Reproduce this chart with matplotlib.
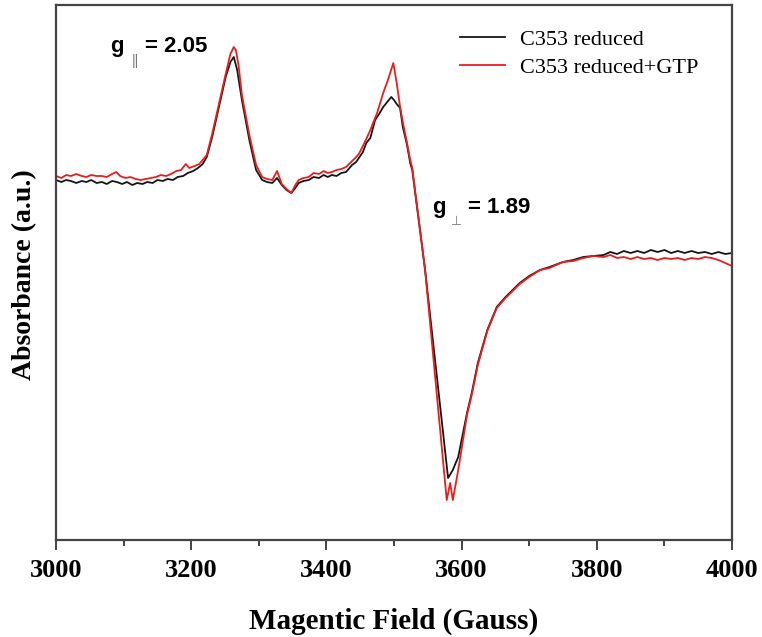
import matplotlib
matplotlib.use("Agg")
import matplotlib.pyplot as plt
from matplotlib.ticker import MultipleLocator

# EPR spectra, field in Gauss, absorbance in arbitrary units
field_reduced = [3000, 3008, 3015, 3022, 3030, 3038, 3045, 3052, 3060, 3068,
                 3075, 3083, 3090, 3098, 3105, 3113, 3120, 3128, 3135, 3143,
                 3150, 3158, 3165, 3173, 3180, 3188, 3195, 3203, 3210, 3217,
                 3223, 3231, 3241, 3251, 3258, 3263, 3268, 3275, 3286, 3296,
                 3305, 3312, 3320, 3327, 3334, 3341, 3348, 3354, 3359, 3366,
                 3374, 3381, 3389, 3396, 3402, 3408, 3415, 3422, 3429, 3438,
                 3444, 3448, 3454, 3459, 3465, 3472, 3478, 3484, 3490, 3496,
                 3500, 3504, 3509, 3513, 3519, 3524, 3527, 3546, 3580, 3587,
                 3595, 3608, 3615, 3624, 3638, 3652, 3665, 3686, 3700, 3716,
                 3730, 3750, 3765, 3780, 3795, 3810, 3820, 3830, 3840, 3850,
                 3860, 3870, 3880, 3890, 3900, 3910, 3920, 3930, 3940, 3950,
                 3960, 3970, 3980, 3990, 4000]
abs_reduced = [36.0, 35.8, 36.0, 35.9, 35.7, 35.9, 35.8, 36.0, 35.7, 35.8,
               35.6, 35.9, 35.8, 35.6, 35.8, 35.5, 35.7, 35.6, 35.8, 35.7,
               36.0, 35.9, 36.1, 36.0, 36.3, 36.4, 36.7, 36.9, 37.2, 37.6,
               38.3, 40.3, 43.3, 46.3, 47.8, 48.3, 47.0, 44.0, 40.0, 37.0,
               36.0, 35.8, 35.7, 36.2, 35.5, 35.0, 34.7, 35.2, 35.7, 35.9,
               36.0, 36.3, 36.2, 36.5, 36.3, 36.5, 36.4, 36.7, 36.8, 37.5,
               37.8, 38.2, 38.8, 39.7, 40.2, 42.0, 42.6, 43.3, 43.8, 44.3,
               44.0, 43.6, 43.2, 41.3, 39.6, 37.7, 37.0, 27.0, 6.2, 7.0,
               8.3, 12.7, 14.7, 17.7, 21.0, 23.3, 24.3, 25.7, 26.4, 27.0,
               27.3, 27.8, 28.0, 28.3, 28.4, 28.5, 28.8, 28.6, 28.9, 28.7,
               28.9, 28.7, 29.0, 28.8, 29.0, 28.7, 28.9, 28.7, 28.9, 28.7,
               28.8, 28.6, 28.8, 28.6, 28.7]

field_gtp = [3000, 3008, 3015, 3022, 3030, 3038, 3045, 3052, 3060, 3068,
             3075, 3083, 3089, 3095, 3103, 3110, 3118, 3125, 3133, 3140,
             3148, 3155, 3163, 3170, 3178, 3185, 3192, 3197, 3205, 3212,
             3223, 3231, 3241, 3251, 3258, 3263, 3266, 3270, 3275, 3286,
             3296, 3305, 3312, 3320, 3327, 3334, 3341, 3348, 3354, 3359,
             3366, 3374, 3381, 3389, 3396, 3402, 3408, 3415, 3422, 3429,
             3438, 3444, 3448, 3454, 3459, 3465, 3475, 3484, 3491, 3499,
             3504, 3509, 3513, 3519, 3524, 3527, 3546, 3578, 3583, 3587,
             3595, 3608, 3615, 3624, 3638, 3652, 3665, 3686, 3700, 3716,
             3730, 3750, 3765, 3780, 3795, 3810, 3820, 3830, 3840, 3850,
             3860, 3870, 3880, 3890, 3900, 3910, 3920, 3930, 3940, 3950,
             3960, 3970, 3980, 3990, 4000]
abs_gtp = [36.4, 36.2, 36.5, 36.4, 36.6, 36.4, 36.3, 36.5, 36.4, 36.4,
           36.3, 36.6, 36.8, 36.4, 36.2, 36.3, 36.1, 36.0, 36.1, 36.2,
           36.3, 36.5, 36.4, 36.6, 36.9, 37.0, 37.6, 37.2, 37.4, 37.6,
           38.5, 40.6, 43.6, 46.6, 48.6, 49.3, 49.0, 47.5, 44.5, 40.5,
           37.5, 36.3, 36.1, 36.0, 36.9, 35.6, 35.1, 34.7, 35.5, 36.0,
           36.2, 36.3, 36.7, 36.6, 36.9, 36.7, 36.8, 37.0, 37.1, 37.3,
           37.9, 38.3, 38.6, 39.4, 40.1, 41.0, 42.7, 44.7, 46.0, 47.7,
           45.7, 43.3, 41.8, 39.8, 38.0, 37.2, 27.0, 4.0, 5.7, 4.0,
           7.0, 12.5, 14.5, 17.5, 20.9, 23.2, 24.2, 25.6, 26.3, 27.0,
           27.2, 27.8, 27.9, 28.2, 28.4, 28.3, 28.5, 28.2, 28.3, 28.1,
           28.3, 28.1, 28.2, 28.0, 28.2, 28.1, 28.2, 28.0, 28.2, 28.1,
           28.3, 28.2, 28.0, 27.7, 27.4]

labels = ["C353 reduced", "C353 reduced+GTP"]

serif = "Liberation Serif"
sans = "Liberation Sans"

fig = plt.figure(figsize=(7.62, 6.37), dpi=100)
ax = fig.add_axes([56 / 762, 97 / 637, 676 / 762, 535 / 637])

ax.plot(field_reduced, abs_reduced, color="#151515", lw=1.3, label=labels[0])
ax.plot(field_gtp, abs_gtp, color="#ee1c1c", lw=1.3, label=labels[1])

ax.set_xlim(3000, 4000)
ax.set_ylim(0, 53.5)

for side in ["left", "right", "top", "bottom"]:
    ax.spines[side].set_color("#444444")
    ax.spines[side].set_linewidth(1.6)

ax.xaxis.set_major_locator(MultipleLocator(200))
ax.xaxis.set_minor_locator(MultipleLocator(100))
ax.tick_params(axis="x", which="major", direction="out", length=7, width=1.4,
               color="#444444", pad=7)
ax.tick_params(axis="x", which="minor", direction="out", length=4, width=1.4,
               color="#444444")
ax.set_yticks([])
for lab in ax.get_xticklabels():
    lab.set_fontfamily(serif)
    lab.set_fontweight("bold")
    lab.set_fontsize(19)

fig.text(394 / 762, 1 - 621 / 637, "Magentic Field (Gauss)", family=serif,
         weight="bold", fontsize=21, ha="center", va="center")
fig.text(25 / 762, 1 - 275 / 637, "Absorbance (a.u.)", family=serif,
         weight="bold", fontsize=20, ha="center", va="center", rotation=90)

# g-value annotations
ax.text(3080, 48.8, "g", family=sans, weight="bold", fontsize=16, va="baseline")
ax.text(3112, 47.5, "||", family=sans, fontsize=10, color="#777777", va="baseline")
ax.text(3132, 48.8, "= 2.05", family=sans, weight="bold", fontsize=16, va="baseline")

ax.text(3556, 32.7, "g", family=sans, weight="bold", fontsize=16, va="baseline")
ax.text(3584, 31.5, "\u22a5", family="DejaVu Sans", fontsize=9, color="#777777",
        va="baseline")
ax.text(3609, 32.7, "= 1.89", family=sans, weight="bold", fontsize=16, va="baseline")

ax.legend(loc="upper left", bbox_to_anchor=(0.598, 0.955), frameon=False,
          prop={"family": serif, "size": 16}, handlelength=2.0,
          handletextpad=0.7, labelspacing=0.35, borderpad=0, borderaxespad=0)

fig.savefig("out.png", dpi=100)
